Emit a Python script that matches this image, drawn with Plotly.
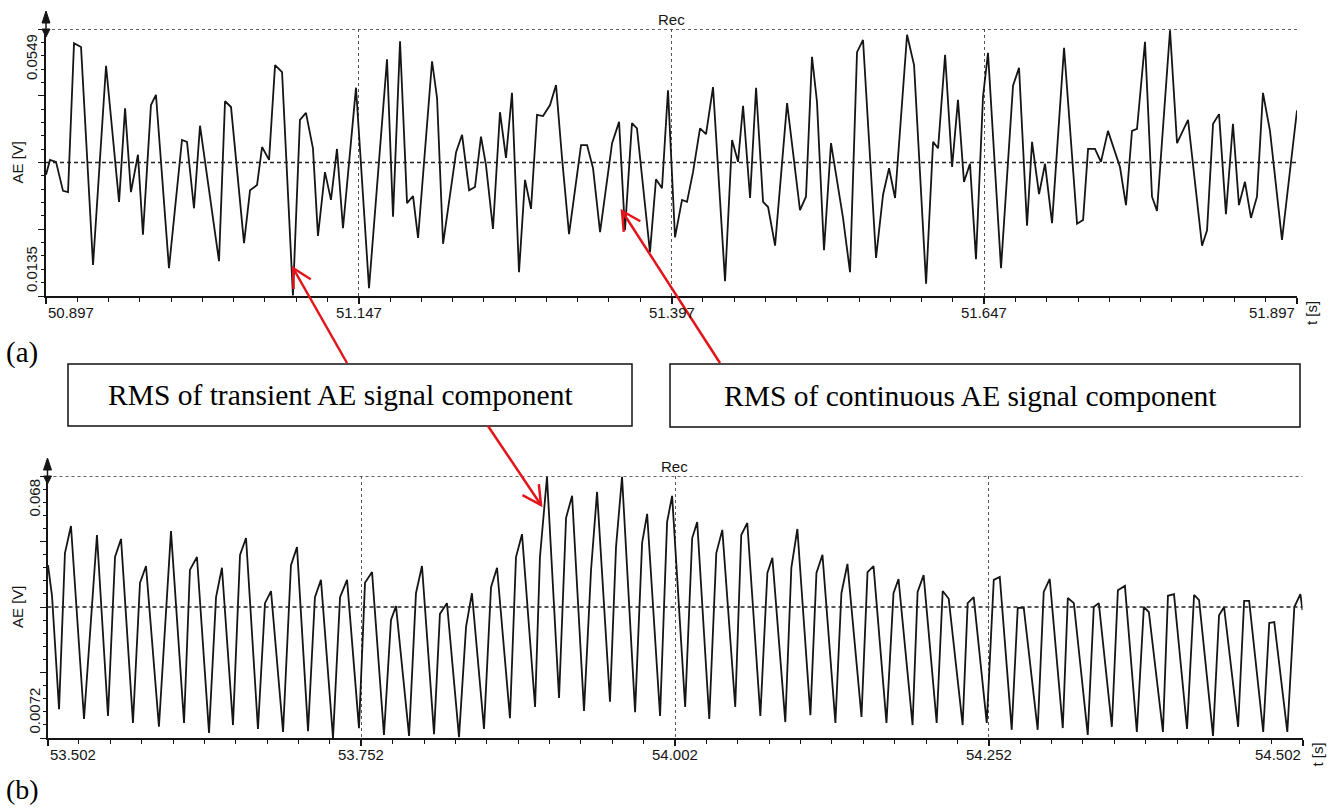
import math
import plotly.graph_objects as go

W, H = 1333, 810

# ---------------- data: (a) continuous-dominated record ----------------
t0_a = 50.897
t_a_ms = [0, 3.2, 8.0, 13.6, 17.6, 22.4, 28.0, 37.6, 48.0, 58.4,
          63.2, 67.9, 73.5, 77.5, 83.9, 87.9, 98.3, 108.7, 112.7, 118.3,
          123.1, 138.3, 143.1, 147.9, 158.3, 163.1, 168.7, 172.7, 178.3, 183.1,
          188.7, 197.4, 203.0, 207.8, 213.4, 217.4, 223.0, 227.8, 232.6, 237.4,
          247.8, 258.2, 272.6, 277.4, 283.0, 288.6, 293.4, 297.4, 308.6, 312.6,
          317.4, 327.8, 332.6, 338.2, 342.9, 347.7, 351.7, 357.3, 362.9, 367.7,
          372.5, 378.1, 382.9, 387.7, 392.5, 397.3, 402.9, 407.7, 412.5, 418.1,
          427.7, 432.5, 437.3, 442.9, 452.5, 458.1, 462.8, 468.4, 472.4, 482.8,
          487.6, 492.4, 497.2, 502.8, 508.4, 512.4, 517.2, 522.8, 527.6, 533.2,
          542.8, 548.4, 553.2, 557.2, 562.8, 567.6, 573.2, 577.2, 582.8, 592.4,
          602.7, 607.5, 612.3, 616.3, 621.9, 627.5, 637.1, 642.7, 648.3, 653.1,
          663.5, 669.1, 673.9, 678.7, 688.3, 693.9, 703.5, 709.1, 713.1, 718.7,
          724.3, 729.0, 733.8, 738.6, 743.4, 749.0, 753.0, 763.4, 773.0, 777.8,
          784.2, 788.2, 793.8, 798.6, 804.2, 813.8, 824.2, 829.0, 833.0, 838.5,
          843.3, 848.9, 858.5, 863.3, 868.1, 872.1, 878.5, 884.1, 888.1, 898.5,
          904.1, 912.9, 924.1, 928.1, 932.9, 937.7, 943.2, 948.8, 953.6, 958.4,
          963.2, 968.0, 972.8, 978.4, 988.0, 1000.0]
ae_a_mV = [32.3, 34.6, 34.3, 29.8, 29.6, 52.7, 52.1, 18.3, 49.2, 28.1,
           42.6, 29.6, 35.4, 23.0, 43.1, 44.7, 17.8, 37.7, 37.4, 27.1,
           39.9, 18.9, 43.7, 42.8, 21.7, 29.9, 30.7, 36.6, 34.6, 49.3,
           48.2, 13.6, 40.8, 41.9, 36.4, 22.8, 32.7, 28.4, 36.3, 24.0,
           45.8, 14.7, 50.2, 25.8, 53.0, 27.9, 29.0, 22.5, 49.9, 44.2,
           21.6, 35.8, 38.5, 29.9, 30.4, 38.2, 33.8, 23.9, 42.0, 34.9,
           45.0, 17.2, 31.5, 27.0, 41.6, 41.4, 43.1, 46.2, 34.9, 23.1,
           36.9, 36.9, 33.3, 23.4, 37.2, 40.5, 23.7, 40.3, 39.5, 20.3,
           31.6, 30.2, 45.4, 22.6, 28.4, 28.1, 32.7, 39.5, 38.6, 45.9,
           15.8, 37.7, 34.3, 43.0, 28.7, 45.8, 28.1, 27.3, 21.3, 43.4,
           26.8, 28.9, 50.6, 43.6, 20.6, 37.2, 25.6, 17.2, 51.3, 53.2,
           19.4, 29.2, 33.3, 28.7, 54.0, 49.3, 15.4, 37.4, 36.4, 50.9,
           33.5, 43.9, 31.2, 34.0, 19.2, 44.4, 51.2, 17.8, 46.1, 48.9,
           24.4, 37.4, 29.3, 34.0, 24.8, 52.0, 24.7, 25.3, 36.3, 36.3,
           34.3, 39.1, 33.5, 27.6, 39.1, 39.4, 52.9, 28.9, 26.7, 54.7,
           37.2, 40.8, 21.3, 23.7, 40.2, 41.7, 26.2, 40.2, 27.6, 31.2,
           25.6, 28.9, 45.0, 39.1, 22.2, 42.3]
xticks_a = [50.897, 51.147, 51.397, 51.647, 51.897]
ylim_a = [0.0135, 0.0549]

# ---------------- data: (b) transient-dominated record ----------------
t0_b = 53.502
t_b_ms = [0.4, 3.6, 9.2, 13.9, 18.7, 29.1, 39.4, 48.2, 53.8, 58.6,
          68.1, 73.7, 78.5, 88.8, 98.4, 108.8, 113.5, 119.1, 128.7, 134.3,
          139.0, 147.8, 153.4, 158.2, 167.7, 173.3, 178.1, 187.7, 194.0, 198.8,
          207.6, 213.1, 217.9, 227.5, 233.1, 238.7, 248.2, 253.0, 258.6, 268.1,
          273.7, 277.7, 288.1, 293.6, 298.4, 308.0, 312.7, 318.3, 327.9, 333.5,
          338.2, 347.8, 353.4, 358.2, 368.5, 373.3, 378.1, 388.5, 392.4, 398.0,
          407.6, 413.2, 418.0, 427.5, 433.1, 437.9, 448.2, 453.0, 457.8, 468.2,
          473.8, 477.8, 488.1, 493.7, 497.7, 508.1, 513.7, 517.7, 527.3, 532.9,
          537.7, 548.0, 552.8, 557.6, 568.0, 573.6, 577.6, 587.9, 592.7, 597.5,
          607.9, 612.7, 617.5, 627.8, 632.6, 637.4, 648.6, 653.4, 658.2, 668.5,
          674.1, 678.1, 689.3, 693.3, 698.1, 708.5, 713.3, 718.1, 729.2, 733.2,
          738.0, 748.4, 754.0, 758.8, 768.3, 773.1, 777.9, 789.0, 793.8, 798.6,
          809.0, 813.0, 817.8, 828.9, 833.7, 837.7, 848.1, 852.9, 858.5, 868.0,
          873.6, 877.6, 888.8, 892.8, 897.6, 908.0, 913.6, 917.6, 928.7, 933.5,
          937.5, 948.7, 953.5, 957.5, 968.7, 973.5, 977.5, 987.9, 993.5, 998.3,
          1000.0]
ae_b_mV = [47.3, 40.2, 13.9, 50.1, 56.4, 11.6, 54.3, 12.3, 49.2, 53.4,
           10.7, 43.2, 47.1, 9.8, 55.2, 10.7, 46.2, 49.2, 8.4, 39.9,
           46.7, 10.2, 49.7, 53.6, 9.3, 38.5, 41.3, 8.6, 47.3, 51.5,
           8.8, 39.9, 43.9, 7.2, 39.9, 43.9, 9.5, 43.2, 45.7, 7.9,
           34.6, 37.8, 7.7, 40.8, 47.1, 8.1, 36.0, 38.5, 7.4, 33.0,
           40.8, 9.3, 42.2, 46.7, 11.8, 49.2, 54.5, 14.4, 49.2, 67.8,
           16.5, 58.3, 63.4, 13.5, 46.2, 64.3, 15.6, 51.5, 67.8, 13.2,
           52.5, 59.2, 12.3, 57.3, 63.4, 14.4, 53.6, 57.3, 11.6, 50.1,
           55.5, 14.4, 54.3, 57.1, 12.3, 45.5, 49.0, 10.9, 46.7, 55.7,
           12.5, 45.5, 49.7, 10.7, 40.8, 47.6, 12.1, 45.7, 47.1, 10.7,
           40.8, 44.1, 10.2, 41.1, 45.0, 10.7, 41.3, 39.5, 10.2, 38.5,
           39.9, 10.7, 43.9, 44.6, 9.1, 37.4, 37.4, 9.1, 41.1, 44.1,
           9.5, 39.7, 38.5, 7.9, 37.6, 38.5, 9.8, 41.5, 42.5, 8.6,
           37.6, 36.4, 8.6, 40.2, 40.6, 9.3, 40.4, 39.2, 7.7, 35.7,
           37.6, 9.8, 39.0, 39.0, 8.6, 33.9, 34.1, 8.6, 37.6, 40.6,
           36.9]
xticks_b = [53.502, 53.752, 54.002, 54.252, 54.502]
ylim_b = [0.0072, 0.068]

panel_title = "Rec"
y_title = "AE [V]"
x_title = "t [s]"
box_texts = ["RMS of transient AE signal component",
             "RMS of continuous AE signal component"]
panel_tags = ["(a)", "(b)"]

# ---------------- layout helpers (pixel -> paper) ----------------
def px(x):
    return x / W


def py(y):
    return 1 - y / H


SANS = "Liberation Sans, Arial, sans-serif"
SERIF = "Liberation Serif, Times New Roman, serif"
INK = "#151515"
RED = "#e3151a"
FS = 15

# panel geometry in pixels: (left, right, top, bottom)
geo_a = (46, 1297, 29, 296)
geo_b = (47.5, 1302.5, 476, 738)

fig = go.Figure()
fig.add_trace(go.Scatter(x=[t0_a + t / 1000 for t in t_a_ms],
                         y=[v / 1000 for v in ae_a_mV],
                         mode="lines", line=dict(color=INK, width=1.8),
                         xaxis="x", yaxis="y", hoverinfo="skip"))
fig.add_trace(go.Scatter(x=[t0_b + t / 1000 for t in t_b_ms],
                         y=[v / 1000 for v in ae_b_mV],
                         mode="lines", line=dict(color=INK, width=1.8),
                         xaxis="x2", yaxis="y2", hoverinfo="skip"))


def xaxis_cfg(geo, ticks, anchor):
    return dict(domain=[px(geo[0]), px(geo[1])], range=[ticks[0], ticks[-1]],
                anchor=anchor, tickmode="array", tickvals=ticks,
                showticklabels=False, ticks="outside", ticklen=6, tickwidth=1.5,
                tickcolor=INK, showline=True, linecolor=INK, linewidth=1.5,
                showgrid=True, gridcolor="#555", griddash="dot", gridwidth=1.2,
                zeroline=False,
                minor=dict(tickmode="linear", tick0=ticks[0],
                           dtick=(ticks[1] - ticks[0]) / 10, ticks="outside",
                           ticklen=4, tickwidth=1.2, tickcolor=INK, showgrid=False))


def yaxis_cfg(geo, lim, anchor):
    d = (lim[1] - lim[0]) / 4
    return dict(domain=[py(geo[3]), py(geo[2])], range=lim, anchor=anchor,
                tickmode="linear", tick0=lim[0], dtick=d, showticklabels=False,
                ticks="outside", ticklen=6, tickwidth=1.2, tickcolor=INK,
                showline=True, linecolor=INK, linewidth=1.5, showgrid=False,
                zeroline=False,
                minor=dict(tickmode="linear", tick0=lim[0], dtick=d / 5,
                           ticks="outside", ticklen=3, tickwidth=1,
                           tickcolor=INK, showgrid=False))


shapes = []
annotations = []


def panel_decor(geo, ticks, lim, xref, yref):
    l, r, t, b = geo
    # dotted top frame
    shapes.append(dict(type="line", xref=xref, yref=yref, x0=ticks[0], x1=ticks[-1],
                       y0=lim[1], y1=lim[1], line=dict(color="#333", width=1.3, dash="dot")))
    # dashed centre line
    mid = (lim[0] + lim[1]) / 2
    shapes.append(dict(type="line", xref=xref, yref=yref, x0=ticks[0], x1=ticks[-1],
                       y0=mid, y1=mid, line=dict(color="#222", width=1.3, dash="4px,3px")))
    # axis arrow decoration above the y axis
    shapes.append(dict(type="line", xref="paper", yref="paper", x0=px(l), x1=px(l),
                       y0=py(t), y1=py(t - 16), line=dict(color=INK, width=1.5)))
    shapes.append(dict(type="path", xref="paper", yref="paper",
                       path=f"M {px(l)},{py(t - 18)} L {px(l - 4)},{py(t - 6)} "
                            f"L {px(l + 4)},{py(t - 6)} Z",
                       fillcolor=INK, line=dict(color=INK, width=1)))
    shapes.append(dict(type="path", xref="paper", yref="paper",
                       path=f"M {px(l - 4)},{py(t)} L {px(l + 4)},{py(t)} "
                            f"L {px(l)},{py(t + 8)} Z",
                       fillcolor=INK, line=dict(color=INK, width=1)))
    # x tick labels
    for i, v in enumerate(ticks):
        anchor = "left" if i == 0 else ("right" if i == len(ticks) - 1 else "center")
        annotations.append(dict(x=v, y=py(b + 16), xref=xref, yref="paper",
                                text=f"{v:.3f}", showarrow=False, xanchor=anchor,
                                yanchor="middle", font=dict(family=SANS, size=FS, color=INK)))
    # y tick labels (rotated, drawn inside the extent as in the original software)
    top_lbl = f"{lim[1]:g}"
    annotations.append(dict(x=px(l - 14), y=lim[1], xref="paper", yref=yref,
                            text=top_lbl, showarrow=False, textangle=-90,
                            xanchor="center", yanchor="middle",
                            yshift=-(28 if len(top_lbl) > 5 else 22),
                            font=dict(family=SANS, size=FS, color=INK)))
    annotations.append(dict(x=px(l - 14), y=lim[0], xref="paper", yref=yref,
                            text=f"{lim[0]:g}", showarrow=False, textangle=-90,
                            xanchor="center", yanchor="middle", yshift=27,
                            font=dict(family=SANS, size=FS, color=INK)))
    # axis titles
    annotations.append(dict(x=px(17), y=mid, xref="paper", yref=yref, text=y_title,
                            showarrow=False, textangle=-90, xanchor="center",
                            yanchor="middle", font=dict(family=SANS, size=FS, color=INK)))
    annotations.append(dict(x=px(r + 14), y=py(b + 17), xref="paper", yref="paper",
                            text=x_title, showarrow=False, textangle=-90, xanchor="center",
                            yanchor="middle", font=dict(family=SANS, size=FS, color=INK)))
    annotations.append(dict(x=px((l + r) / 2), y=py(t - 10), xref="paper", yref="paper",
                            text=panel_title, showarrow=False, xanchor="center",
                            yanchor="middle", font=dict(family=SANS, size=FS, color=INK)))


panel_decor(geo_a, xticks_a, ylim_a, "x", "y")
panel_decor(geo_b, xticks_b, ylim_b, "x2", "y2")

# panel tags
annotations.append(dict(x=px(22), y=py(352), xref="paper", yref="paper", text=panel_tags[0],
                        showarrow=False, xanchor="center", yanchor="middle",
                        font=dict(family=SERIF, size=29, color="#000")))
annotations.append(dict(x=px(22), y=py(789), xref="paper", yref="paper", text=panel_tags[1],
                        showarrow=False, xanchor="center", yanchor="middle",
                        font=dict(family=SERIF, size=28, color="#000")))

# callout boxes: (left, right, top, bottom, text centre x)
boxes = [(68, 632, 364, 426, 340), (670, 1300, 364, 427, 970)]
for (bl, br, bt, bb, cx), txt in zip(boxes, box_texts):
    shapes.append(dict(type="rect", xref="paper", yref="paper", x0=px(bl), x1=px(br),
                       y0=py(bb), y1=py(bt), fillcolor="white",
                       line=dict(color="#111", width=1.5), layer="above"))
    annotations.append(dict(x=px(cx), y=py((bt + bb) / 2), xref="paper",
                            yref="paper", text=txt, showarrow=False, xanchor="center",
                            yanchor="middle", font=dict(family=SERIF, size=29.5, color="#000")))


def red_arrow(x0, y0, x1, y1, L=21, ang=28):
    dx, dy = x0 - x1, y0 - y1
    n = math.hypot(dx, dy)
    ux, uy = dx / n, dy / n
    pts = []
    for s in (1, -1):
        a = math.radians(ang * s)
        rx = ux * math.cos(a) - uy * math.sin(a)
        ry = ux * math.sin(a) + uy * math.cos(a)
        pts.append((x1 + L * rx, y1 + L * ry))
    shapes.append(dict(type="line", xref="paper", yref="paper", x0=px(x0), y0=py(y0),
                       x1=px(x1), y1=py(y1), line=dict(color=RED, width=2.5), layer="above"))
    shapes.append(dict(type="path", xref="paper", yref="paper",
                       path=f"M {px(pts[0][0])},{py(pts[0][1])} L {px(x1)},{py(y1)} "
                            f"L {px(pts[1][0])},{py(pts[1][1])}",
                       line=dict(color=RED, width=2.5), layer="above"))


red_arrow(347, 363, 293, 268)
red_arrow(720, 363, 622, 211)
red_arrow(488, 426, 541, 505)

fig.update_layout(
    width=W, height=H, margin=dict(l=0, r=0, t=0, b=0),
    paper_bgcolor="white", plot_bgcolor="white", showlegend=False,
    xaxis=xaxis_cfg(geo_a, xticks_a, "y"),
    yaxis=yaxis_cfg(geo_a, ylim_a, "x"),
    xaxis2=xaxis_cfg(geo_b, xticks_b, "y2"),
    yaxis2=yaxis_cfg(geo_b, ylim_b, "x2"),
    shapes=shapes, annotations=annotations,
)

fig.write_html("out.html")
